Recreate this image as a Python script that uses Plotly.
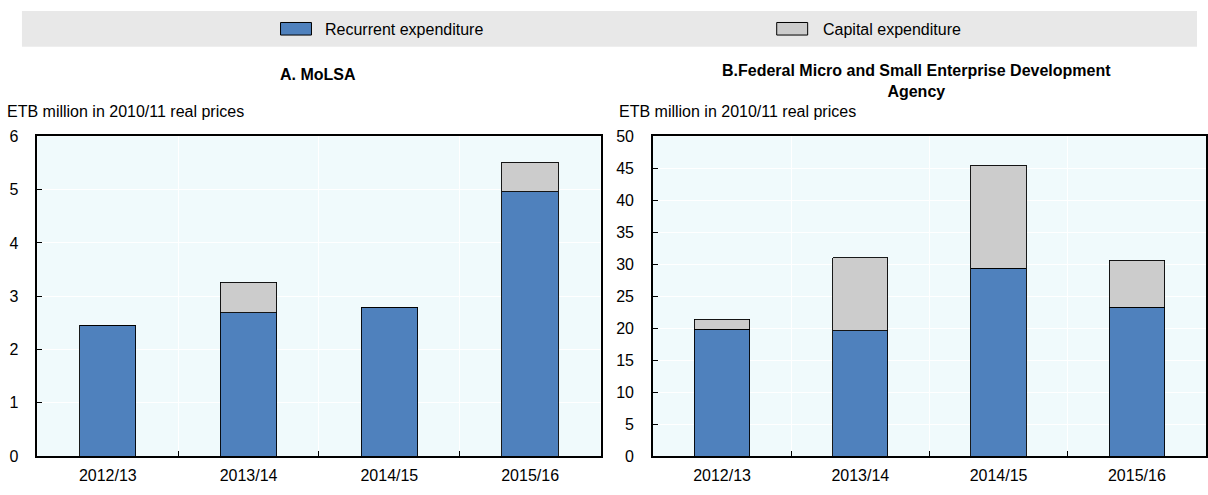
import plotly.graph_objects as go

years = ["2012/13", "2013/14", "2014/15", "2015/16"]
molsa_recurrent = [2.46, 2.69, 2.79, 4.96]
molsa_capital = [0.0, 0.57, 0.0, 0.56]
fmsea_recurrent = [19.8, 19.6, 29.4, 23.3]
fmsea_capital = [1.6, 11.4, 16.1, 7.3]

W, H = 1208, 495
FONT = "Liberation Sans Narrow, Arial Narrow, Liberation Sans, Arial, sans-serif"
BLUE = "#4F81BD"
GREY = "#CCCCCC"
BG = "#F0FAFC"

def px(x):
    return x / W

def py(y):
    return 1 - y / H

fig = go.Figure()
line = dict(color="#000000", width=0.9)
fig.add_trace(go.Bar(x=years, y=molsa_recurrent, marker=dict(color=BLUE, line=line),
                     name="Recurrent expenditure", xaxis="x", yaxis="y", showlegend=False))
fig.add_trace(go.Bar(x=years, y=molsa_capital, marker=dict(color=GREY, line=line),
                     name="Capital expenditure", xaxis="x", yaxis="y", showlegend=False))
fig.add_trace(go.Bar(x=years, y=fmsea_recurrent, marker=dict(color=BLUE, line=line),
                     name="Recurrent expenditure", xaxis="x2", yaxis="y2", showlegend=False))
fig.add_trace(go.Bar(x=years, y=fmsea_capital, marker=dict(color=GREY, line=line),
                     name="Capital expenditure", xaxis="x2", yaxis="y2", showlegend=False))

ydom = [py(464), py(133)]
xcommon = dict(
    type="category", range=[-0.5, 3.5], tickson="boundaries", ticks="inside",
    ticklen=5, tickcolor="#000", showline=True, linecolor="#000", linewidth=1.5,
    mirror=True, showgrid=True, gridcolor="#FFFFFF", gridwidth=1,
    tickfont=dict(family=FONT, size=16, color="#000"), fixedrange=True,
    ticklabelstandoff=4,
)
ycommon = dict(
    ticks="inside", ticklen=5, tickcolor="#000", showline=True, linecolor="#000",
    linewidth=1.5, mirror=True, showgrid=True, gridcolor="#FFFFFF", gridwidth=1,
    tickfont=dict(family=FONT, size=16, color="#000"), zeroline=False,
    domain=ydom, fixedrange=True, ticklabelstandoff=14,
)

fig.update_layout(
    width=W, height=H, margin=dict(l=0, r=0, t=0, b=0),
    paper_bgcolor="#FFFFFF", plot_bgcolor=BG, barmode="stack", bargap=0.6,
    font=dict(family=FONT, size=16, color="#000"),
    xaxis=dict(xcommon, domain=[px(37.5), px(601.5)], anchor="y"),
    yaxis=dict(ycommon, range=[0, 6], dtick=1, anchor="x"),
    xaxis2=dict(xcommon, domain=[px(654), 1.0], anchor="y2"),
    yaxis2=dict(ycommon, range=[0, 50], dtick=5, anchor="x2"),
    showlegend=False,
)

# Legend band
fig.add_shape(type="rect", xref="paper", yref="paper", x0=px(22), x1=px(1199),
              y0=py(40), y1=py(3), fillcolor="#E8E8E8", line=dict(width=0), layer="below")
# Legend swatches
fig.add_shape(type="rect", xref="paper", yref="paper", x0=px(281), x1=px(312),
              y0=py(28), y1=py(15), fillcolor=BLUE, line=dict(color="#000", width=1))
fig.add_shape(type="rect", xref="paper", yref="paper", x0=px(778), x1=px(809),
              y0=py(28), y1=py(15), fillcolor=GREY, line=dict(color="#000", width=1))

ann = []
ann.append(dict(text="Recurrent expenditure", x=px(324), y=py(22), xanchor="left", yanchor="middle"))
ann.append(dict(text="Capital expenditure", x=px(822), y=py(22), xanchor="left", yanchor="middle"))
ann.append(dict(text="<b>A. MoLSA</b>", x=px(319), y=py(69), xanchor="center", yanchor="middle"))
ann.append(dict(text="<b>B.Federal Micro and Small Enterprise Development<br>Agency</b>",
                x=px(918), y=py(76), xanchor="center", yanchor="middle"))
ann.append(dict(text="ETB million in 2010/11 real prices", x=px(5), y=py(107), xanchor="left", yanchor="middle"))
ann.append(dict(text="ETB million in 2010/11 real prices", x=px(618), y=py(107), xanchor="left", yanchor="middle"))
for a in ann:
    a.update(xref="paper", yref="paper", showarrow=False, font=dict(family=FONT, size=16, color="#000"))
    fig.add_annotation(**a)

fig.write_html("out.html", config={"displayModeBar": False},
               post_script="document.body.style.margin='0';document.body.style.overflow='hidden';")
